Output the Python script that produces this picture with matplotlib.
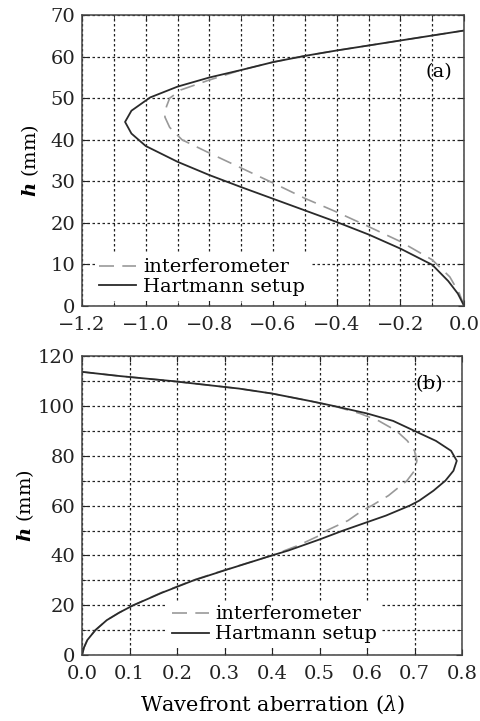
import matplotlib
matplotlib.use("Agg")
import matplotlib.pyplot as plt
from matplotlib.ticker import MultipleLocator

plt.rcParams['font.family'] = ['DejaVu Serif']
plt.rcParams['mathtext.fontset'] = 'custom'
plt.rcParams['mathtext.bf'] = 'DejaVu Serif:bold:italic'
plt.rcParams['mathtext.it'] = 'DejaVu Serif:italic'
plt.rcParams['mathtext.rm'] = 'DejaVu Serif'

# Panel (a)
a_hart_h = [0, 3, 6, 9.9, 13.8, 17.2, 20.2, 23.0, 25.8, 28.6, 31.5, 34.7, 38.5, 41.5, 44.3, 47.0, 50.2, 52.8, 55.0, 56.8, 58.7, 60.2, 61.5, 62.7, 63.9, 65.1, 66.3]
a_hart_x = [0.0, -0.02, -0.05, -0.10, -0.20, -0.30, -0.40, -0.50, -0.60, -0.70, -0.80, -0.90, -1.00, -1.045, -1.065, -1.045, -0.986, -0.90, -0.80, -0.70, -0.60, -0.50, -0.40, -0.30, -0.20, -0.10, 0.0]
a_int_h = [0, 3, 7, 11.1, 15.5, 19.1, 22.6, 25.9, 29.6, 33.2, 36.8, 40.0, 43.0, 45.5, 48.0, 50.0, 52.0, 54.4, 56.8, 58.7, 60.2, 61.5, 62.7, 63.9, 65.1, 66.3]
a_int_x = [0.0, -0.015, -0.045, -0.10, -0.20, -0.30, -0.40, -0.50, -0.60, -0.70, -0.80, -0.886, -0.925, -0.94, -0.935, -0.925, -0.89, -0.80, -0.70, -0.60, -0.50, -0.40, -0.30, -0.20, -0.10, 0.0]

# Panel (b)
b_hart_h = [0, 3, 6, 10, 14, 17, 20, 25, 30, 34, 40, 42, 46.4, 50, 52, 56, 60, 62, 66, 70, 74, 78, 82, 86, 90, 94, 97, 100, 102, 105, 107, 110, 112, 113.7]
b_hart_x = [0.0, 0.004, 0.011, 0.028, 0.052, 0.078, 0.108, 0.168, 0.235, 0.30, 0.40, 0.435, 0.50, 0.55, 0.58, 0.64, 0.69, 0.71, 0.74, 0.765, 0.782, 0.789, 0.777, 0.745, 0.70, 0.655, 0.60, 0.53, 0.48, 0.40, 0.33, 0.19, 0.08, 0.0]
b_int_h = [0, 3, 6, 10, 14, 17, 20, 25, 30, 34, 40, 44, 48, 50, 54, 58, 60, 64, 70, 74, 78, 82, 86, 90, 94, 97, 100, 102, 105, 107, 110, 112, 113.7]
b_int_x = [0.0, 0.004, 0.011, 0.028, 0.052, 0.078, 0.108, 0.166, 0.233, 0.298, 0.40, 0.455, 0.50, 0.515, 0.56, 0.59, 0.61, 0.645, 0.684, 0.70, 0.705, 0.70, 0.685, 0.662, 0.625, 0.585, 0.53, 0.48, 0.40, 0.33, 0.19, 0.08, 0.0]

labels = ["interferometer", "Hartmann setup"]
panel_tags = ["(a)", "(b)"]
a_xticks = [-1.2, -1.0, -0.8, -0.6, -0.4, -0.2, 0.0]

fig = plt.figure(figsize=(4.8, 7.21), dpi=100)
ax1 = fig.add_axes([0.171, 0.5756, 0.796, 0.4034])
ax2 = fig.add_axes([0.171, 0.0915, 0.7915, 0.4145])

dash_col = '#999999'
solid_col = '#2a2a2a'
fs = 14

def style(ax):
    ax.grid(True, which='both', linestyle=(0, (2, 2)), color='#222222', linewidth=0.9)
    ax.set_axisbelow(True)
    ax.tick_params(which='both', direction='in', top=True, right=True, labelsize=fs, colors='#222222')
    ax.tick_params(axis='x', which='both', pad=7)
    ax.tick_params(axis='y', which='both', pad=5)
    ax.tick_params(which='major', length=4)
    ax.tick_params(which='minor', length=3)
    for s in ax.spines.values():
        s.set_color('#444444')
        s.set_linewidth(1.1)

l1, = ax1.plot(a_int_x, a_int_h, color=dash_col, lw=1.2, dashes=(9, 5))
l2, = ax1.plot(a_hart_x, a_hart_h, color=solid_col, lw=1.3)
ax1.set_xlim(-1.2, 0.0)
ax1.set_ylim(0, 70)
ax1.xaxis.set_minor_locator(MultipleLocator(0.1))
ax1.yaxis.set_major_locator(MultipleLocator(10))
style(ax1)
ax1.set_xticks(a_xticks)
ax1.set_xticklabels([('\u2212' if v < 0 else '') + f'{abs(v):.1f}' for v in a_xticks])
ax1.set_ylabel(r'$\mathbf{h}$ (mm)', fontsize=fs)
ax1.yaxis.set_label_coords(-0.107, 0.5)
ax1.text(0.935, 0.805, panel_tags[0], transform=ax1.transAxes, fontsize=fs, ha='center', va='center')
ax1.legend([l1, l2], labels, loc='lower left', bbox_to_anchor=(0.02, 0.0), fontsize=fs,
           frameon=True, framealpha=1, edgecolor='none', facecolor='white', fancybox=False,
           handlelength=1.9, handletextpad=0.35, labelspacing=0.1, borderpad=0.25, borderaxespad=0.25)

m1, = ax2.plot(b_int_x, b_int_h, color=dash_col, lw=1.2, dashes=(9, 5))
m2, = ax2.plot(b_hart_x, b_hart_h, color=solid_col, lw=1.3)
ax2.set_xlim(0.0, 0.8)
ax2.set_ylim(0, 120)
ax2.xaxis.set_major_locator(MultipleLocator(0.1))
ax2.yaxis.set_major_locator(MultipleLocator(20))
ax2.yaxis.set_minor_locator(MultipleLocator(10))
style(ax2)
ax2.set_ylabel(r'$\mathbf{h}$ (mm)', fontsize=fs)
ax2.yaxis.set_label_coords(-0.121, 0.5)
ax2.set_xlabel(r'Wavefront aberration ($\lambda$)', fontsize=15, labelpad=8)
ax2.text(0.915, 0.905, panel_tags[1], transform=ax2.transAxes, fontsize=fs, ha='center', va='center')
ax2.legend([m1, m2], labels, loc='lower left', bbox_to_anchor=(0.205, 0.0), fontsize=fs,
           frameon=True, framealpha=1, edgecolor='none', facecolor='white', fancybox=False,
           handlelength=1.9, handletextpad=0.35, labelspacing=0.1, borderpad=0.25, borderaxespad=0.35)

fig.savefig('out.png', dpi=100)
